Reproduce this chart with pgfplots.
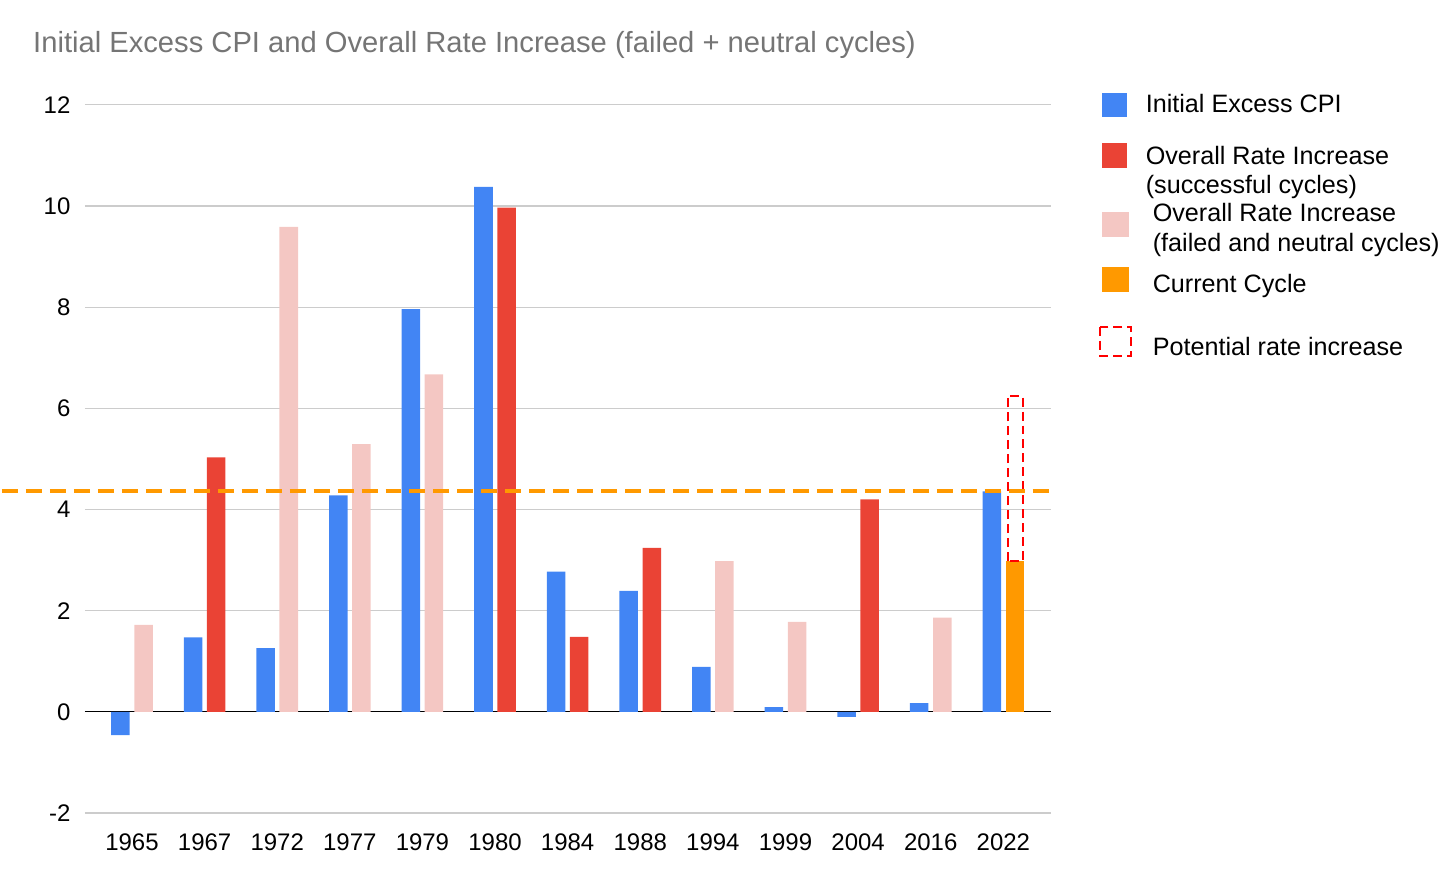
\documentclass[border=0pt]{standalone}
\usepackage{fontspec}
\setmainfont{Liberation Sans}
\usepackage{pgfplots}
\pgfplotsset{compat=1.18}
\definecolor{cpiblue}{HTML}{4285F4}
\definecolor{ratered}{HTML}{EA4335}
\definecolor{ratepink}{HTML}{F4C7C3}
\definecolor{curorange}{HTML}{FF9900}
\definecolor{gridgray}{HTML}{CCCCCC}
\definecolor{titlegray}{HTML}{757575}

\begin{document}
\begin{tikzpicture}
\begin{scope}[x=0.5pt,y=-0.5pt]
\path[use as bounding box] (0,0) rectangle (1456,888);
\end{scope}

\begin{axis}[
    at={(41.5pt,-52.5pt)}, anchor=north west,
    scale only axis,
    width=483.5pt, height=354.5pt,
    xmin=-0.65, xmax=12.65,
    ymin=-2, ymax=12,
    ytick={-2,0,2,4,6,8,10,12},
    xtick={0,...,12},
    xticklabels={1965,1967,1972,1977,1979,1980,1984,1988,1994,1999,2004,2016,2022},
    axis line style={draw=none},
    major tick length=0pt,
    ymajorgrids,
    grid style={gridgray, line width=0.6pt},
    extra y ticks={0},
    extra y tick labels={},
    extra y tick style={grid style={black, line width=0.7pt}},
    ticklabel style={font=\fontsize{12}{14}\selectfont, text=black},
    /pgf/number format/assume math mode=true,
    yticklabel style={anchor=east, inner sep=0pt, xshift=-7pt},
    xticklabel style={anchor=north, inner sep=0pt, yshift=-10pt},
    clip=false,
]

% Initial Excess CPI
\addplot[ybar, bar width=0.255, bar shift=-0.159, fill=cpiblue, draw=none] coordinates {
    (0,-0.46) (1,1.47) (2,1.26) (3,4.28) (4,7.96) (5,10.38) (6,2.77)
    (7,2.39) (8,0.89) (9,0.09) (10,-0.10) (11,0.17) (12,4.36)
};

% Overall rate increase, successful cycles
\addplot[ybar, bar width=0.255, bar shift=0.159, fill=ratered, draw=none] coordinates {
    (1,5.03) (5,9.97) (6,1.48) (7,3.24) (10,4.20)
};

% Overall rate increase, failed and neutral cycles
\addplot[ybar, bar width=0.255, bar shift=0.159, fill=ratepink, draw=none] coordinates {
    (0,1.72) (2,9.59) (3,5.29) (4,6.67) (8,2.98) (9,1.78) (11,1.86)
};

% Current cycle
\addplot[ybar, bar width=0.255, bar shift=0.159, fill=curorange, draw=none] coordinates {
    (12,2.98)
};

% Potential rate increase
\addplot[red, line width=1pt, dash pattern=on 4.5pt off 2.5pt] coordinates {
    (12.058,2.98) (12.058,6.24) (12.272,6.24) (12.272,2.98) (12.058,2.98)
};

% Current CPI level
\addplot[curorange, line width=2pt, dash pattern=on 8pt off 4pt] coordinates {
    (-1.79,4.36) (12.65,4.36)
};

\end{axis}

\begin{scope}[x=0.5pt,y=-0.5pt, every node/.style={font=\fontsize{12.6}{15}\selectfont, inner sep=0pt, anchor=base west}]
\node[text=titlegray, font=\fontsize{14.6}{17}\selectfont] at (31,53) {Initial Excess CPI and Overall Rate Increase (failed + neutral cycles)};

\fill[cpiblue] (1102,93) rectangle (1127,117);
\node at (1145,113) {Initial Excess CPI};

\fill[ratered] (1102,143) rectangle (1127,168);
\node at (1145,165) {Overall Rate Increase};
\node at (1145,194) {(successful cycles)};

\fill[ratepink] (1102,212) rectangle (1129,237);
\node at (1152,222) {Overall Rate Increase};
\node at (1152,252) {(failed and neutral cycles)};

\fill[curorange] (1102,267) rectangle (1129,292);
\node at (1152,293) {Current Cycle};

\draw[red, line width=1pt, dash pattern=on 4.5pt off 2.5pt] (1100,327) rectangle (1131,356);
\node at (1152,356) {Potential rate increase};
\end{scope}
\end{tikzpicture}
\end{document}
